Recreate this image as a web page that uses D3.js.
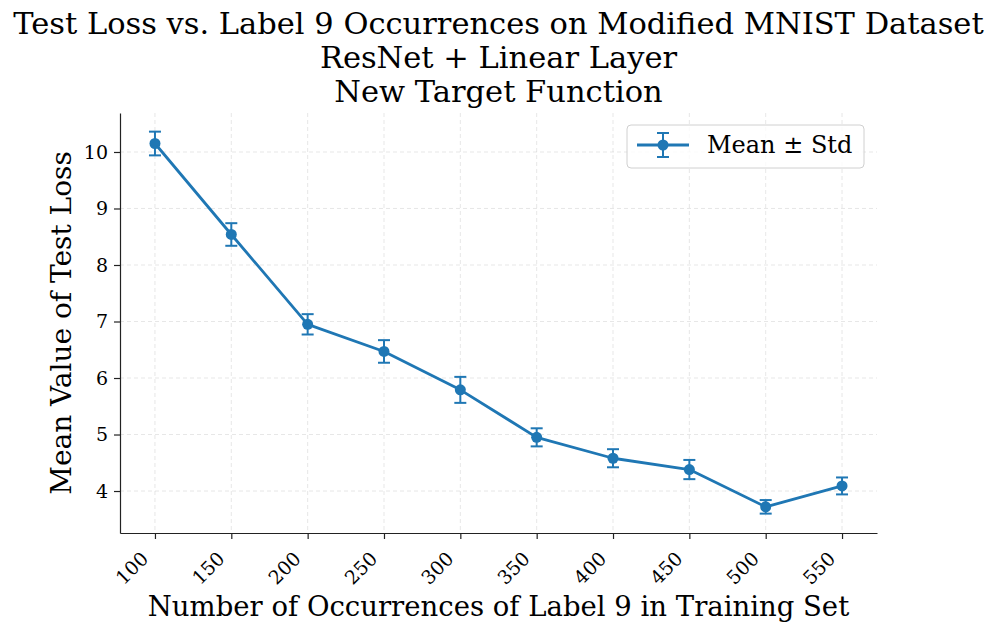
<!DOCTYPE html>
<html><head><meta charset="utf-8">
<script src="https://cdn.jsdelivr.net/npm/d3@7"></script>
<style>body{margin:0;background:#fff;} svg{display:block;font-family:"DejaVu Serif",serif;}</style>
</head><body>
<svg id="chart" width="997" height="632"></svg>
<script>
const occurrences = [100,150,200,250,300,350,400,450,500,550];
const meanLoss = [10.15,8.54,6.95,6.47,5.79,4.95,4.58,4.38,3.72,4.09];
const stdLoss = [0.21,0.20,0.18,0.20,0.23,0.16,0.16,0.17,0.12,0.15];
const yTicks = [4,5,6,7,8,9,10];
const titleLines = ["Test Loss vs. Label 9 Occurrences on Modified MNIST Dataset","ResNet + Linear Layer","New Target Function"];
const xLabel = "Number of Occurrences of Label 9 in Training Set";
const yLabel = "Mean Value of Test Loss";
const legendLabel = "Mean \u00b1 Std";
const color = "#1f77b4";

const svg = d3.select("#chart");
const L=120,R=877,T=113,B=533;
const x = d3.scaleLinear().domain([77.1,572.9]).range([L,R]);
const y = d3.scaleLinear().domain([3.257,10.69]).range([B,T]);

// grid
const g = svg.append("g");
g.selectAll(".gx").data(occurrences).enter().append("line")
 .attr("x1",d=>x(d)).attr("x2",d=>x(d)).attr("y1",T).attr("y2",B)
 .attr("stroke","#b0b0b0").attr("stroke-opacity",0.3).attr("stroke-dasharray","4,3").attr("stroke-width",1);
g.selectAll(".gy").data(yTicks).enter().append("line")
 .attr("x1",L).attr("x2",R).attr("y1",d=>y(d)).attr("y2",d=>y(d))
 .attr("stroke","#b0b0b0").attr("stroke-opacity",0.3).attr("stroke-dasharray","4,3").attr("stroke-width",1);

// axes
const xAxis = svg.append("g").attr("transform",`translate(0,${B})`)
 .call(d3.axisBottom(x).tickValues(occurrences).tickSize(6).tickSizeOuter(0));
xAxis.select(".domain").attr("stroke","#222").attr("stroke-width",1.2);
xAxis.selectAll(".tick line").attr("stroke","#222").attr("stroke-width",1.2);
xAxis.selectAll(".tick text").attr("font-family","DejaVu Serif").attr("font-size",19).attr("fill","#000")
 .attr("text-anchor","end").attr("dy",0).attr("y",0)
 .attr("transform","translate(-6,27) rotate(-45)");

const yAxis = svg.append("g").attr("transform",`translate(${L},0)`)
 .call(d3.axisLeft(y).tickValues(yTicks).tickSize(6).tickSizeOuter(0));
yAxis.select(".domain").attr("stroke","#222").attr("stroke-width",1.2);
yAxis.selectAll(".tick line").attr("stroke","#222").attr("stroke-width",1.2);
yAxis.selectAll(".tick text").attr("font-family","DejaVu Serif").attr("font-size",19).attr("fill","#000").attr("x",-12);

// line
const data = occurrences.map((o,i)=>({o,m:meanLoss[i],s:stdLoss[i]}));
svg.append("path").datum(data).attr("fill","none").attr("stroke",color).attr("stroke-width",2.8)
 .attr("stroke-linejoin","round")
 .attr("d",d3.line().x(d=>x(d.o)).y(d=>y(d.m)));
const eb = svg.append("g").attr("stroke",color).attr("stroke-width",2);
data.forEach(d=>{
  eb.append("line").attr("x1",x(d.o)).attr("x2",x(d.o)).attr("y1",y(d.m-d.s)).attr("y2",y(d.m+d.s));
  [d.m-d.s,d.m+d.s].forEach(v=>eb.append("line").attr("x1",x(d.o)-6).attr("x2",x(d.o)+6).attr("y1",y(v)).attr("y2",y(v)));
});
svg.append("g").selectAll("circle").data(data).enter().append("circle")
 .attr("cx",d=>x(d.o)).attr("cy",d=>y(d.m)).attr("r",5.5).attr("fill",color);

// title
svg.append("g").selectAll("text").data(titleLines).enter().append("text")
 .attr("x",498.5).attr("y",(d,i)=>34+i*34).attr("text-anchor","middle")
 .attr("font-size",30.5).attr("fill","#000").text(d=>d);

// axis labels
svg.append("text").attr("x",498.5).attr("y",616).attr("text-anchor","middle").attr("font-size",27.5).attr("fill","#000").text(xLabel);
svg.append("text").attr("transform",`translate(71,323) rotate(-90)`).attr("text-anchor","middle").attr("font-size",28).attr("fill","#000").text(yLabel);

// legend
const lg = svg.append("g");
lg.append("rect").attr("x",627).attr("y",125).attr("width",237).attr("height",43).attr("rx",4)
 .attr("fill","#fff").attr("fill-opacity",0.8).attr("stroke","#d0d0d0").attr("stroke-width",1);
lg.append("line").attr("x1",637).attr("x2",689).attr("y1",145).attr("y2",145).attr("stroke",color).attr("stroke-width",2.8);
lg.append("line").attr("x1",663).attr("x2",663).attr("y1",133).attr("y2",157).attr("stroke",color).attr("stroke-width",2);
[133,157].forEach(v=>lg.append("line").attr("x1",657).attr("x2",669).attr("y1",v).attr("y2",v).attr("stroke",color).attr("stroke-width",2));
lg.append("circle").attr("cx",663).attr("cy",145).attr("r",5.5).attr("fill",color);
lg.append("text").attr("x",707).attr("y",153).attr("font-size",24).attr("fill","#000").text(legendLabel);
</script>
</body></html>
